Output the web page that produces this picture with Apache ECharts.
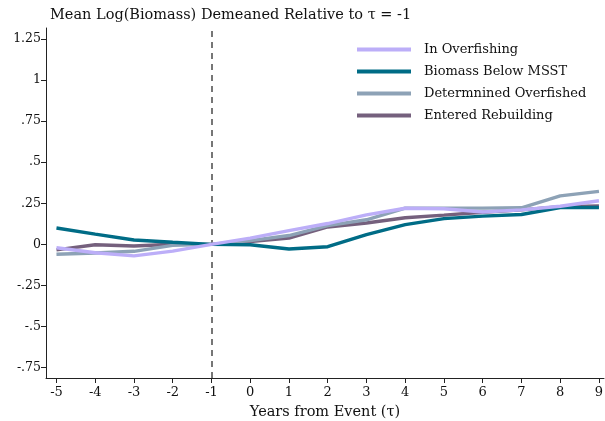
<!DOCTYPE html>
<html>
<head>
<meta charset="utf-8">
<script src="https://cdn.jsdelivr.net/npm/echarts@6/dist/echarts.min.js"></script>
<style>
  html, body { margin: 0; padding: 0; background: #fff; }
  #chart { width: 605px; height: 421px; }
</style>
</head>
<body>
<div id="chart"></div>
<script>
// Event-time axis (years relative to the event)
const years = [-5, -4, -3, -2, -1, 0, 1, 2, 3, 4, 5, 6, 7, 8, 9];

// Mean log biomass, demeaned relative to tau = -1
const inOverfishing      = [-0.020, -0.051, -0.070, -0.041, 0, 0.038, 0.084, 0.127, 0.180, 0.220, 0.217, 0.197, 0.210, 0.232, 0.266];
const biomassBelowMSST   = [0.100, 0.063, 0.027, 0.013, 0, -0.002, -0.028, -0.014, 0.060, 0.120, 0.157, 0.172, 0.182, 0.224, 0.225];
const determinedOverfish = [-0.060, -0.052, -0.042, -0.006, 0, 0.023, 0.054, 0.114, 0.150, 0.221, 0.221, 0.221, 0.223, 0.295, 0.323];
const enteredRebuilding  = [-0.033, -0.002, -0.010, 0.001, 0, 0.018, 0.038, 0.106, 0.130, 0.162, 0.178, 0.196, 0.210, 0.230, 0.234];

const seriesNames = ['In Overfishing', 'Biomass Below MSST', 'Determnined Overfished', 'Entered Rebuilding'];
const seriesData = [inOverfishing, biomassBelowMSST, determinedOverfish, enteredRebuilding];
const seriesColors = ['#bcaef8', '#006c86', '#8da2b6', '#75607d'];

// Tick values and their labels
const xTicks = years;
const yTicks = [-0.75, -0.5, -0.25, 0, 0.25, 0.5, 0.75, 1, 1.25];
const yTickLabels = ['-.75', '-.5', '-.25', '0', '.25', '.5', '.75', '1', '1.25'];
const eventLine = -1;

const FONT = 'DejaVu Serif';

const chart = echarts.init(document.getElementById('chart'), null, { renderer: 'canvas' });

const series = seriesNames.map((name, i) => ({
  name: name,
  type: 'line',
  data: years.map((x, j) => [x, seriesData[i][j]]),
  showSymbol: false,
  symbol: 'none',
  lineStyle: { color: seriesColors[i], width: 3.4 },
  itemStyle: { color: seriesColors[i] },
  z: 10 - i
}));

// dashed reference line at the event year
series.push({
  name: 'event',
  type: 'line',
  data: [],
  markLine: {
    silent: true,
    symbol: 'none',
    label: { show: false },
    lineStyle: { color: '#4a4a4a', type: [6, 5], width: 1.5 },
    data: [{ xAxis: eventLine }]
  },
  z: 1
});

chart.setOption({
  animation: false,
  backgroundColor: '#ffffff',
  title: {
    text: 'Mean Log(Biomass) Demeaned Relative to \u03c4 = -1',
    left: 45,
    top: 3,
    textStyle: { fontFamily: FONT, fontSize: 14.5, fontWeight: 'normal', color: '#111' }
  },
  legend: {
    data: seriesNames,
    orient: 'vertical',
    left: 352,
    top: 38,
    itemWidth: 54,
    itemHeight: 4,
    itemGap: 9,
    icon: 'rect',
    textStyle: { fontFamily: FONT, fontSize: 13, color: '#111', padding: [0, 0, 0, 8] }
  },
  grid: { left: 46, right: 1, top: 28, bottom: 43, containLabel: false, outerBoundsMode: 'none' },
  xAxis: {
    type: 'value',
    min: -5.27,
    max: 9.13,
    splitLine: { show: false },
    axisLine: { show: true, onZero: false, lineStyle: { color: '#222', width: 1 } },
    axisTick: { show: true, length: 5, lineStyle: { color: '#222' }, customValues: xTicks },
    axisLabel: {
      customValues: xTicks,
      fontFamily: FONT, fontSize: 13, color: '#111', margin: 8,
      formatter: v => String(v)
    },
    name: 'Years from Event (\u03c4)',
    nameLocation: 'middle',
    nameGap: 27,
    nameTextStyle: { fontFamily: FONT, fontSize: 14.5, color: '#111' }
  },
  yAxis: {
    type: 'value',
    min: -0.813,
    max: 1.317,
    splitLine: { show: false },
    axisLine: { show: true, onZero: false, lineStyle: { color: '#222', width: 1 } },
    axisTick: { show: true, length: 5, lineStyle: { color: '#222' }, customValues: yTicks },
    axisLabel: {
      customValues: yTicks,
      fontFamily: FONT, fontSize: 12.5, color: '#111', margin: 5,
      formatter: v => {
        const k = yTicks.findIndex(t => Math.abs(t - v) < 1e-9);
        return k >= 0 ? yTickLabels[k] : '';
      }
    }
  },
  series: series
});
</script>
</body>
</html>
